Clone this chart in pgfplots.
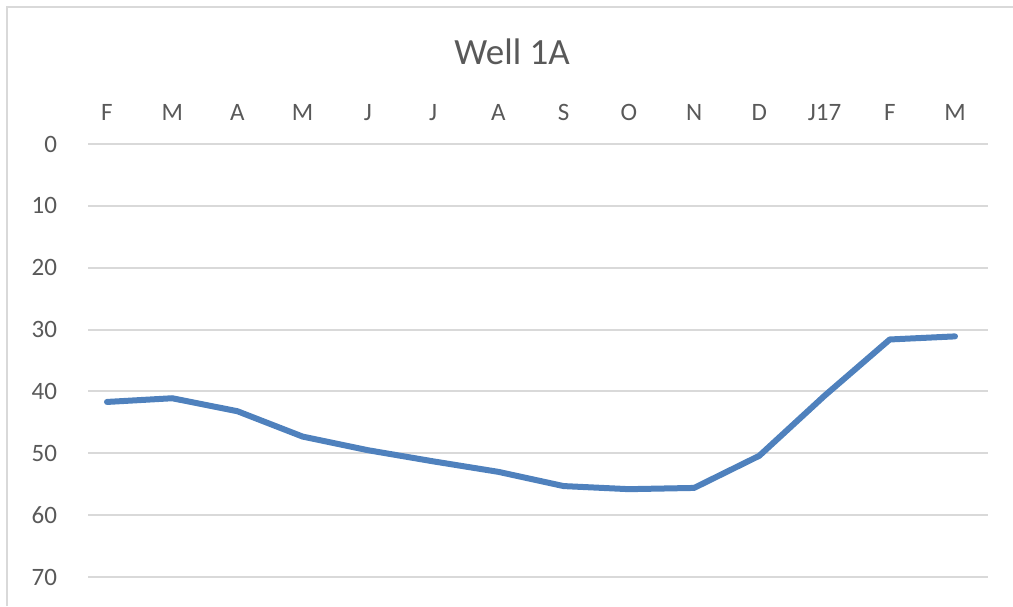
\documentclass[border=0pt]{standalone}
\usepackage{pgfplots}
\pgfplotsset{compat=1.18}
\usepackage{fontspec}
\setmainfont{Carlito}
\definecolor{excelblue}{RGB}{79,129,189}
\definecolor{gridgray}{RGB}{217,217,217}
\definecolor{txtgray}{RGB}{89,89,89}
\begin{document}
\begin{tikzpicture}
\useasboundingbox (0,0) rectangle (506.5pt,303pt);
% chart frame (only top and left edges are visible in the crop)
\draw[gridgray,line width=1pt] (3.5pt,0) -- (3.5pt,299.5pt) -- (506.5pt,299.5pt);
\node[txtgray,font=\fontsize{18.5}{22}\selectfont] at (256pt,277pt) {Well 1A};
\begin{axis}[
  at={(44pt,14.5pt)}, anchor=south west,
  scale only axis, width=450pt, height=216.5pt,
  xmin=-0.291, xmax=13.506, ymin=0, ymax=70,
  y dir=reverse,
  xtick={0,...,13},
  xticklabels={F,M,A,M,J,J,A,S,O,N,D,J17,F,M},
  xticklabel pos=right,
  ytick={0,10,...,70},
  ymajorgrids, grid style={gridgray,line width=1pt},
  axis line style={draw=none},
  major tick length=0pt,
  tick label style={txtgray,font=\fontsize{12.5}{15}\selectfont},
  /pgf/number format/assume math mode=true,
  xticklabel style={yshift=8pt},
  yticklabel style={xshift=-12pt},
]
\addplot[excelblue,line width=3pt,line join=round,line cap=round] coordinates {
  (0,41.7) (1,41.1) (2,43.2) (3,47.3) (4,49.5) (5,51.3) (6,53.0)
  (7,55.3) (8,55.8) (9,55.6) (10,50.4) (11,40.7) (12,31.6) (13,31.1)
};
\end{axis}
\end{tikzpicture}
\end{document}
